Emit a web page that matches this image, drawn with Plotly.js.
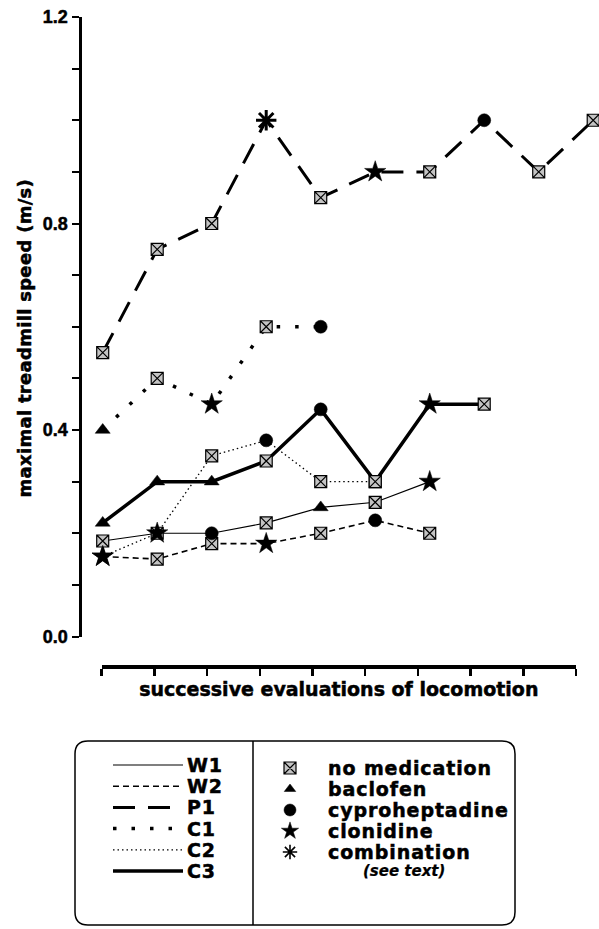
<!DOCTYPE html>
<html><head><meta charset="utf-8">
<script src="https://cdn.plot.ly/plotly-3.0.1.min.js"></script>
<style>
html,body{margin:0;padding:0;background:#fff;}
#chart{width:599px;height:929px;}
text{font-weight:700 !important; stroke:#000; stroke-width:0.5px;}
text.annotation-text{letter-spacing:0.9px;}
text.annotation-text[data-unformatted="maximal treadmill speed (m/s)"]{letter-spacing:0.3px;}
text.annotation-text[data-unformatted="(see text)"]{letter-spacing:0; font-style:italic !important; stroke-width:0.2px;}
</style>
</head><body><div id="chart"></div>
<script>
// ---- data ----
const evals = [1,2,3,4,5,6,7,8,9,10];
const W1 = [0.185,0.20,0.20,0.22,0.25,0.26,0.30];
const W1_med = ['N','N','Y','N','B','N','L'];
const W2 = [0.155,0.15,0.18,0.18,0.20,0.225,0.20];
const W2_med = ['L','N','N','L','N','Y','N'];
const P1 = [0.55,0.75,0.80,1.00,0.85,0.90,0.90,1.00,0.90,1.00];
const P1_med = ['N','N','N','M','N','L','N','Y','N','N'];
const C1 = [0.40,0.50,0.45,0.60,0.60];
const C1_med = ['B','N','L','N','Y'];
const C2 = [0.155,0.20,0.35,0.38,0.30,0.30];
const C2_med = ['L','L','N','Y','N','N'];
const C3 = [0.22,0.30,0.30,0.34,0.44,0.30,0.45,0.45];
const C3_med = ['B','B','B','N','Y','N','L','N'];
const yTickVals = [0,0.1,0.2,0.3,0.4,0.5,0.6,0.7,0.8,0.9,1.0,1.1,1.2];
const yTickText = ['0.0','','','','0.4','','','','0.8','','','','1.2'];
const lineNames = ['W1','W2','P1','C1','C2','C3'];
const medCodes = ['N','B','Y','L','M'];
const medNames = ['no medication','baclofen','cyproheptadine','clonidine','combination'];
const medNote = '(see text)';
const xTitle = 'successive evaluations of locomotion';
const yTitle = 'maximal treadmill speed (m/s)';

// ---- styles ----
const W = 599, H = 929;
const px = v => v / W, py = v => 1 - v / H;
const BOLD = 'DejaVu Sans, Arial, sans-serif';
const medStyle = {
  N: {symbol:'square-x', size:12, color:'#c4c4c4', lw:1.2},
  B: {symbol:'triangle-up', size:13, color:'#000', lw:0.5},
  Y: {symbol:'circle', size:13, color:'#000', lw:0.5},
  L: {symbol:'star', size:16, color:'#000', lw:0.5},
  M: {symbol:'asterisk-open', size:17, color:'#000', lw:3}
};
const legMedStyle = {
  N: {symbol:'square-x', size:12, color:'#c4c4c4', lw:1.2},
  B: {symbol:'triangle-up', size:10, color:'#000', lw:0.5},
  Y: {symbol:'circle', size:12, color:'#000', lw:0.5},
  L: {symbol:'star', size:13, color:'#000', lw:0.5},
  M: {symbol:'asterisk-open', size:12, color:'#000', lw:1.6}
};
const seriesStyle = {
  W1: {width:1.2, dash:'solid'},
  W2: {width:1.6, dash:'6px,4px'},
  P1: {width:3, dash:'22px,13px'},
  C1: {width:3.5, dash:'3.5px,15px'},
  C2: {width:1.3, dash:'1.5px,3px'},
  C3: {width:3.5, dash:'solid'}
};
const seriesData = {W1:[W1,W1_med], W2:[W2,W2_med], P1:[P1,P1_med], C1:[C1,C1_med], C2:[C2,C2_med], C3:[C3,C3_med]};
const drawOrder = ['W2','W1','C2','C3','C1','P1'];

function markerFor(codes, table){
  return {
    symbol: codes.map(c => table[c].symbol),
    size: codes.map(c => table[c].size),
    color: codes.map(c => table[c].color),
    opacity: 1,
    line: {color:'#000', width: codes.map(c => table[c].lw)}
  };
}

const traces = [];
drawOrder.forEach(name => {
  const [vals, meds] = seriesData[name];
  traces.push({
    type:'scatter', mode:'lines+markers', x: evals.slice(0, vals.length), y: vals,
    xaxis:'x', yaxis:'y', cliponaxis:false, hoverinfo:'skip', opacity:1,
    line:{color:'#000', width:seriesStyle[name].width, dash:seriesStyle[name].dash},
    marker: markerFor(meds, medStyle)
  });
});
// dummy trace for the decorative x axis
traces.push({type:'scatter', x:[], y:[], xaxis:'x2', yaxis:'y', hoverinfo:'skip'});

// legend (pixel-coordinate axes x3/y3)
const legLineX = [113, 183];
const legLineRow = i => 765 + i * 21.2;
const legMedRow = i => 768 + i * 21;
lineNames.forEach((name, i) => {
  traces.push({
    type:'scatter', mode:'lines', x: legLineX, y: [legLineRow(i), legLineRow(i)],
    xaxis:'x3', yaxis:'y3', hoverinfo:'skip',
    line:{color:'#000', width:seriesStyle[name].width, dash:seriesStyle[name].dash}
  });
});
traces.push({
  type:'scatter', mode:'markers', x: medCodes.map(() => 290), y: medCodes.map((c, i) => legMedRow(i)),
  xaxis:'x3', yaxis:'y3', hoverinfo:'skip', cliponaxis:false,
  marker: markerFor(medCodes, legMedStyle)
});

const annotations = [{
  text: yTitle, xref:'paper', yref:'paper', x: px(24), y: py(338.5), textangle:-90,
  showarrow:false, xanchor:'center', yanchor:'middle',
  font:{family:BOLD, size:18, color:'#000'}
}];
lineNames.forEach((name, i) => annotations.push({
  text: name, xref:'x3', yref:'y3', x: 185, y: legLineRow(i), xanchor:'left', yanchor:'middle',
  showarrow:false, font:{family:BOLD, size:19, color:'#000'}
}));
medNames.forEach((name, i) => annotations.push({
  text: name, xref:'x3', yref:'y3', x: 326, y: legMedRow(i), xanchor:'left', yanchor:'middle',
  showarrow:false, font:{family:BOLD, size:19, color:'#000'}
}));
annotations.push({
  text: medNote, xref:'x3', yref:'y3', x: 404, y: 871, xanchor:'center', yanchor:'middle',
  showarrow:false, font:{family:BOLD, size:15, color:'#000'}
});

const shapes = [
  {type:'path', xref:'x3', yref:'y3',
   path:'M 88 741 L 502 741 Q 515 741 515 754 L 515 912 Q 515 925 502 925 L 88 925 Q 75 925 75 912 L 75 754 Q 75 741 88 741 Z',
   line:{color:'#000', width:1.5}, fillcolor:'rgba(0,0,0,0)'},
  {type:'line', xref:'x3', yref:'y3', x0:253, x1:253, y0:741, y1:925, line:{color:'#000', width:1.5}}
];

const layout = {
  width:W, height:H, margin:{l:0, r:0, t:0, b:0},
  paper_bgcolor:'#fff', plot_bgcolor:'rgba(0,0,0,0)', showlegend:false,
  xaxis:{domain:[px(82), 1], range:[0.62, 10.106], visible:false, fixedrange:true},
  yaxis:{domain:[py(636.5), py(17)], range:[0, 1.2], anchor:'x',
    showline:true, linewidth:3.5, linecolor:'#000', ticks:'outside', ticklen:7, tickwidth:2, tickcolor:'#000',
    tickmode:'array', tickvals:yTickVals, ticktext:yTickText, showgrid:false, zeroline:false, fixedrange:true,
    tickfont:{family:'Liberation Sans, Arial, sans-serif', size:18, color:'#000'}},
  xaxis2:{domain:[px(101.7), px(576)], range:[1, 10], anchor:'free', position:py(667),
    showline:true, linewidth:4, linecolor:'#000', ticks:'outside', ticklen:7, tickwidth:2.5, tickcolor:'#000',
    tickmode:'array', tickvals:evals, showticklabels:false, showgrid:false, zeroline:false, fixedrange:true,
    title:{text:xTitle, standoff:7, font:{family:BOLD, size:19, color:'#000'}}},
  xaxis3:{domain:[0, 1], range:[0, W], visible:false, anchor:'y3', fixedrange:true},
  yaxis3:{domain:[0, 1], range:[H, 0], visible:false, anchor:'x3', fixedrange:true},
  annotations, shapes
};

Plotly.newPlot('chart', traces, layout, {displayModeBar:false, staticPlot:true});
</script>
</body></html>
